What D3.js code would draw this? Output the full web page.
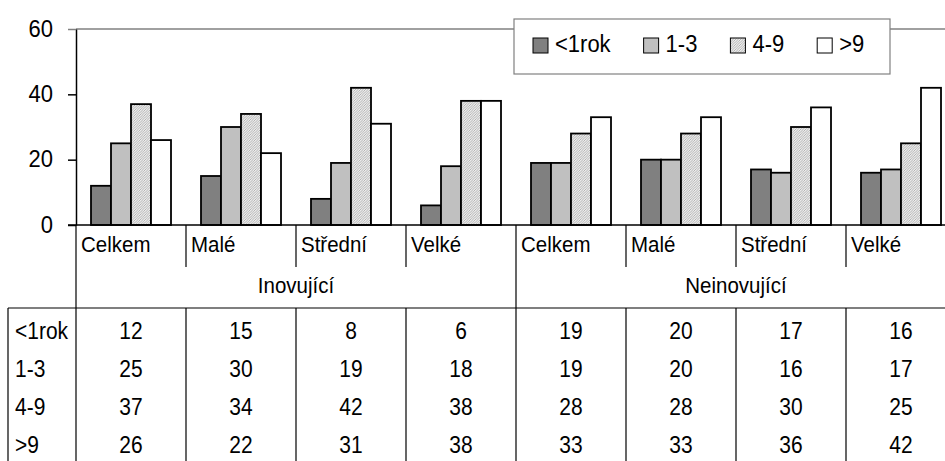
<!DOCTYPE html>
<html>
<head>
<meta charset="utf-8">
<script src="https://cdn.jsdelivr.net/npm/d3@7"></script>
<style>
  html, body { margin: 0; padding: 0; background: #fff; }
  svg { display: block; font-family: "Liberation Sans", Arial, sans-serif; }
</style>
</head>
<body>
<div id="chart"></div>
<script>
// ── Data ─────────────────────────────────────────────────────
const groups     = ['Inovující', 'Neinovující'];
const sizes      = ['Celkem', 'Malé', 'Střední', 'Velké'];
const seriesKeys = ['<1rok', '1-3', '4-9', '>9'];

// one row per series, 8 values: Inovující (4 sizes) then Neinovující (4 sizes)
const lessThan1 = [12, 15, 8, 6, 19, 20, 17, 16];
const from1to3  = [25, 30, 19, 18, 19, 20, 16, 17];
const from4to9  = [37, 34, 42, 38, 28, 28, 30, 25];
const over9     = [26, 22, 31, 38, 33, 33, 36, 42];
const seriesValues = [lessThan1, from1to3, from4to9, over9];

const yTicks = [0, 20, 40, 60];

// ── Setup ────────────────────────────────────────────────────
const width = 945, height = 461;
const plotLeft = 76, plotTop = 29, plotBottom = 225;
const catW = 110;
const FS = 20.5, STRETCH = 1.12;   // text looks slightly taller than plain Arial

const categories = [];
groups.forEach(g => sizes.forEach(s => categories.push(`${g}|${s}`)));

const FILLS = ['#808080', '#c0c0c0', 'url(#hatch)', '#ffffff'];
const GREY = '#808080';

const svg = d3.select('#chart').append('svg')
  .attr('width', width).attr('height', height);

// text helper: places a label with a small vertical stretch
function label(parent, tx, ty, str, anchor = 'start', size = FS) {
  return parent.append('text')
    .attr('transform', `translate(${tx},${ty}) scale(1,${STRETCH})`)
    .attr('text-anchor', anchor)
    .attr('font-size', size)
    .attr('fill', '#000')
    .text(str);
}

const defs = svg.append('defs');
const pat = defs.append('pattern')
  .attr('id', 'hatch')
  .attr('patternUnits', 'userSpaceOnUse')
  .attr('width', 2.5).attr('height', 2.5);
pat.append('rect').attr('width', 2.5).attr('height', 2.5).attr('fill', '#eeeeee');
pat.append('path').attr('d', 'M-0.5,0.5 l1,-1 M0,2.5 l2.5,-2.5 M2,3 l1,-1')
  .attr('stroke', '#9a9a9a').attr('stroke-width', 0.7);

const x = d3.scaleBand()
  .domain(categories)
  .range([plotLeft, plotLeft + catW * categories.length]);

const xInner = d3.scaleBand()
  .domain(seriesKeys)
  .range([0, catW])
  .paddingInner(0)
  .paddingOuter(0.75);

const y = d3.scaleLinear().domain([0, 60]).range([plotBottom, plotTop]);

// ── Top border line ──────────────────────────────────────────
svg.append('line')
  .attr('x1', plotLeft).attr('x2', width)
  .attr('y1', y(60)).attr('y2', y(60))
  .attr('stroke', GREY).attr('stroke-width', 1.5);

// ── Bars ─────────────────────────────────────────────────────
seriesKeys.forEach((key, si) => {
  svg.append('g').selectAll('rect')
    .data(seriesValues[si])
    .join('rect')
    .attr('x', (d, i) => x(categories[i]) + xInner(key))
    .attr('y', d => y(d))
    .attr('width', xInner.bandwidth())
    .attr('height', d => y(0) - y(d))
    .attr('fill', FILLS[si])
    .attr('stroke', '#000')
    .attr('stroke-width', 1.8);
});

// ── Y axis ───────────────────────────────────────────────────
const yAxis = svg.append('g')
  .attr('transform', `translate(${plotLeft},0)`)
  .call(d3.axisLeft(y).tickValues(yTicks).tickSize(8).tickFormat('').tickSizeOuter(0));
yAxis.select('.domain').attr('stroke', '#000').attr('stroke-width', 1.5);
yAxis.selectAll('.tick line').attr('stroke', '#000').attr('stroke-width', 1.5);
yAxis.select('.tick:last-of-type line').attr('stroke', GREY);

yTicks.forEach(t => label(svg, 53, y(t) + 7.5, t, 'end', 22));

// baseline
svg.append('line')
  .attr('x1', plotLeft - 8).attr('x2', width)
  .attr('y1', y(0)).attr('y2', y(0))
  .attr('stroke', '#000').attr('stroke-width', 1.5);

// ── Category labels / table grid ─────────────────────────────
const lineG = svg.append('g').attr('stroke', '#000').attr('stroke-width', 1.2);
const tableTop = 308;

categories.forEach((c, i) => {
  const cx = x(c);
  if (i % sizes.length === 0) {
    lineG.append('line').attr('x1', cx).attr('x2', cx).attr('y1', y(0)).attr('y2', height);
  } else {
    lineG.append('line').attr('x1', cx).attr('x2', cx).attr('y1', y(0)).attr('y2', 267);
    lineG.append('line').attr('x1', cx).attr('x2', cx).attr('y1', tableTop).attr('y2', height);
  }
  label(svg, cx + 5, 252, c.split('|')[1]);
});

groups.forEach((g, gi) => {
  const x0 = x(categories[gi * sizes.length]);
  label(svg, x0 + catW * sizes.length / 2, 293, g, 'middle');
});

// table frame
lineG.append('line').attr('x1', 8).attr('x2', width).attr('y1', tableTop).attr('y2', tableTop);
lineG.append('line').attr('x1', 8).attr('x2', 8).attr('y1', tableTop).attr('y2', height);

// ── Data table ───────────────────────────────────────────────
const rowY = [339, 377, 415, 453];
seriesKeys.forEach((key, si) => {
  label(svg, 15, rowY[si], key, 'start', 21);
  seriesValues[si].forEach((d, i) => {
    label(svg, x(categories[i]) + catW / 2, rowY[si], d, 'middle', 21);
  });
});

// ── Legend ───────────────────────────────────────────────────
const legend = svg.append('g');
legend.append('rect')
  .attr('x', 514).attr('y', 19).attr('width', 376).attr('height', 55)
  .attr('fill', '#fff').attr('stroke', GREY).attr('stroke-width', 1.2);
let lx = 533;
seriesKeys.forEach((key, si) => {
  legend.append('rect')
    .attr('x', lx).attr('y', 38).attr('width', 15).attr('height', 15)
    .attr('fill', FILLS[si]).attr('stroke', '#000').attr('stroke-width', 1);
  const t = label(legend, lx + 22, 52, key, 'start', 22);
  lx += 22 + t.node().getComputedTextLength() + 33;
});
</script>
</body>
</html>
